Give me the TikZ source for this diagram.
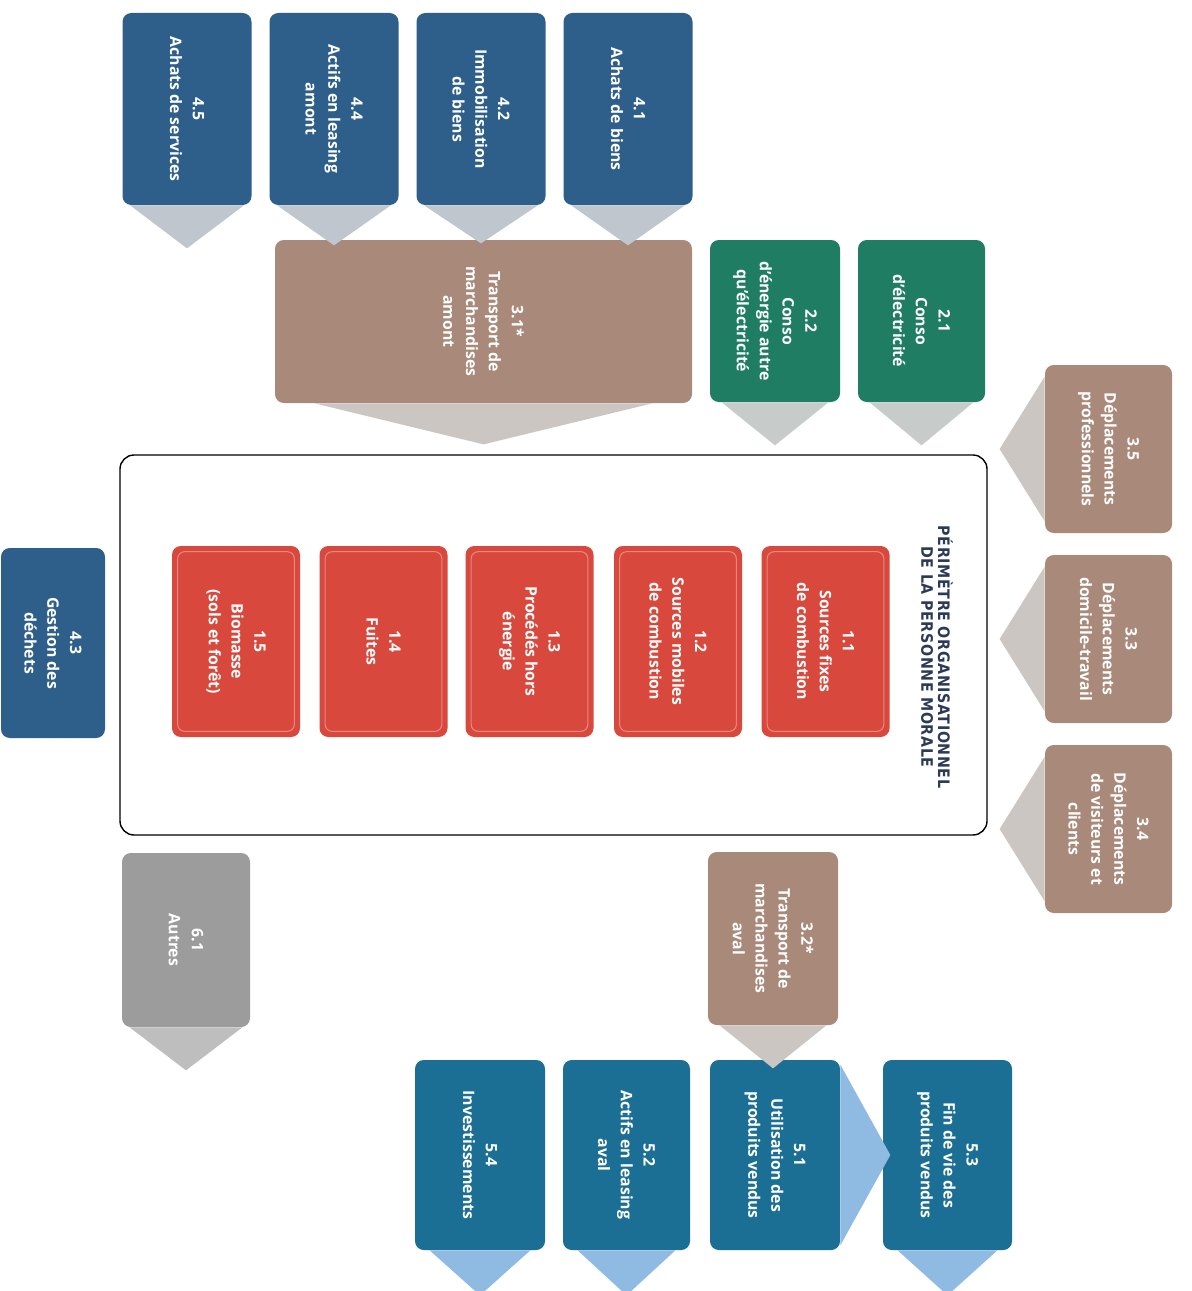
\documentclass[tikz,border=0pt]{standalone}
\usepackage{fontspec}
\setmainfont{Open Sans}
\newfontfamily\titlefont[LetterSpace=4]{DejaVu Sans Condensed}
\usetikzlibrary{calc}
\definecolor{cblue}{HTML}{2E5F8B}
\definecolor{cteal}{HTML}{1C6F94}
\definecolor{cbrown}{HTML}{A98979}
\definecolor{cgreen}{HTML}{1E7D63}
\definecolor{cred}{HTML}{D9483C}
\definecolor{cgray}{HTML}{9C9C9C}
\definecolor{cnavy}{HTML}{2B3A55}
\definecolor{tgblue}{HTML}{BFC6CE}
\definecolor{tgbrown}{HTML}{CBC6C2}
\definecolor{tggreen}{HTML}{C7CBCA}
\definecolor{tggray}{HTML}{BEBEBE}
\definecolor{tlblue}{HTML}{8FBAE2}
\tikzset{
  bx/.style n args={3}{fill=#1, minimum width=#2*0.02cm, minimum height=#3*0.02cm, inner sep=0pt, rounded corners=5pt},
  lbl/.style={rotate=-90, text=white, align=center, inner sep=0pt, font=\bfseries\fontsize{9}{13}\selectfont},
  redline/.style={draw=cred!65!white, line width=0.6pt, rounded corners=4pt}
}
\newcommand\BX[7]{\node[bx={#4}{#5}{#6}] (#1) at (#2,#3) {}; \node[lbl] (#1t) at (#1.center) {#7};}
\newcommand\TD[4]{\fill[#4] ($(#1.south west)+(#2,0)$) -- ($(#1.south)+(0,#3)$) -- ($(#1.south east)+(-#2,0)$) -- cycle;}
\newcommand\TL[4]{\fill[#4] ($(#1.north west)+(0,#2)$) -- ($(#1.west)+(-#3,0)$) -- ($(#1.south west)+(0,-#2)$) -- cycle;}
\newcommand\TR[4]{\fill[#4] ($(#1.north east)+(0,#2)$) -- ($(#1.east)+(#3,0)$) -- ($(#1.south east)+(0,-#2)$) -- cycle;}
\newcommand\RL[1]{\draw[redline] ($(#1.north west)+(6,6)$) rectangle ($(#1.south east)+(-6,-6)$);}
\begin{document}
\begin{tikzpicture}[x=0.02cm,y=-0.02cm]
\useasboundingbox (0,0) rectangle (1192,1291);
\fill[white] (0,0) rectangle (1192,1291);
\clip (0,0) rectangle (1192,1291);

% perimeter
\node[draw=black, line width=0.8pt, rounded corners=8pt, minimum width=867*0.02cm, minimum height=380*0.02cm, inner sep=0pt] (perim) at (553.5,645) {};
\node[rotate=-90, text=cnavy, align=center, inner sep=0pt, font=\titlefont\bfseries\fontsize{9}{9.5}\selectfont] (ttl) at (937,657) {PÉRIMÈTRE ORGANISATIONNEL\\DE LA PERSONNE MORALE};

% 3.1 upstream transport
\BX{n31}{483.5}{321.5}{cbrown}{417}{163}{3.1*\\Transport de\\marchandises\\amont}
\TD{n31}{40}{41}{tgbrown}

% top blue row
\BX{n45}{187}{109}{cblue}{129}{192}{4.5\\Achats de services}
\BX{n44}{334}{109}{cblue}{129}{192}{4.4\\Actifs en leasing\\amont}
\BX{n42}{481}{109}{cblue}{129}{192}{4.2\\Immobilisation\\de biens}
\BX{n41}{628}{109}{cblue}{129}{192}{4.1\\Achats de biens}
\TD{n45}{8}{43}{tgblue}
\TD{n44}{8}{40}{tgblue}
\TD{n42}{8}{38}{tgblue}
\TD{n41}{8}{40}{tgblue}

% green
\BX{n22}{775}{321}{cgreen}{130}{162}{2.2\\Conso\\d’énergie autre\\qu’électricité}
\BX{n21}{921.5}{321}{cgreen}{127}{162}{2.1\\Conso\\d’électricité}
\TD{n22}{12}{43}{tggreen}
\TD{n21}{12}{43}{tggreen}

% right brown column
\BX{n35}{1108.5}{449}{cbrown}{127}{168}{3.5\\Déplacements\\professionnels}
\BX{n33}{1108.5}{639}{cbrown}{127}{168}{3.3\\Déplacements\\domicile-travail}
\BX{n34}{1108.5}{829}{cbrown}{127}{168}{3.4\\Déplacements\\de visiteurs et\\clients}
\TL{n35}{12}{45}{tgbrown}
\TL{n33}{12}{45}{tgbrown}
\TL{n34}{12}{45}{tgbrown}

% red scope 1
\BX{n15}{236}{641.5}{cred}{128}{191}{1.5\\Biomasse\\(sols et forêt)}
\BX{n14}{383.5}{641.5}{cred}{128}{191}{1.4\\Fuites}
\BX{n13}{529.5}{641.5}{cred}{128}{191}{1.3\\Procédés hors\\énergie}
\BX{n12}{678}{641.5}{cred}{128}{191}{1.2\\Sources mobiles\\de combustion}
\BX{n11}{825.5}{641.5}{cred}{128}{191}{1.1\\Sources fixes\\de combustion}
\RL{n15}\RL{n14}\RL{n13}\RL{n12}\RL{n11}

% 4.3
\BX{n43}{53}{643}{cblue}{104}{190}{4.3\\Gestion des\\déchets}

% 6.1
\BX{n61}{186}{940}{cgray}{128}{174}{6.1\\Autres}
\TD{n61}{8}{43}{tggray}

% bottom teal row
\BX{n54}{480}{1155}{cteal}{130}{190}{5.4\\Investissements}
\BX{n52}{626.5}{1155}{cteal}{127}{190}{5.2\\Actifs en leasing\\aval}
\BX{n51}{775}{1155}{cteal}{130}{190}{5.1\\Utilisation des\\produits vendus}
\BX{n53}{947.5}{1155}{cteal}{129}{190}{5.3\\Fin de vie des\\produits vendus}
\TD{n54}{15}{45}{tlblue}
\TD{n52}{15}{45}{tlblue}
\TD{n53}{15}{45}{tlblue}
\TR{n51}{5}{50}{tlblue}

% 3.2 downstream transport
\BX{n32}{773}{938.5}{cbrown}{130}{173}{3.2*\\Transport de\\marchandises\\aval}
\TD{n32}{12}{43}{tgbrown}
\end{tikzpicture}
\end{document}
